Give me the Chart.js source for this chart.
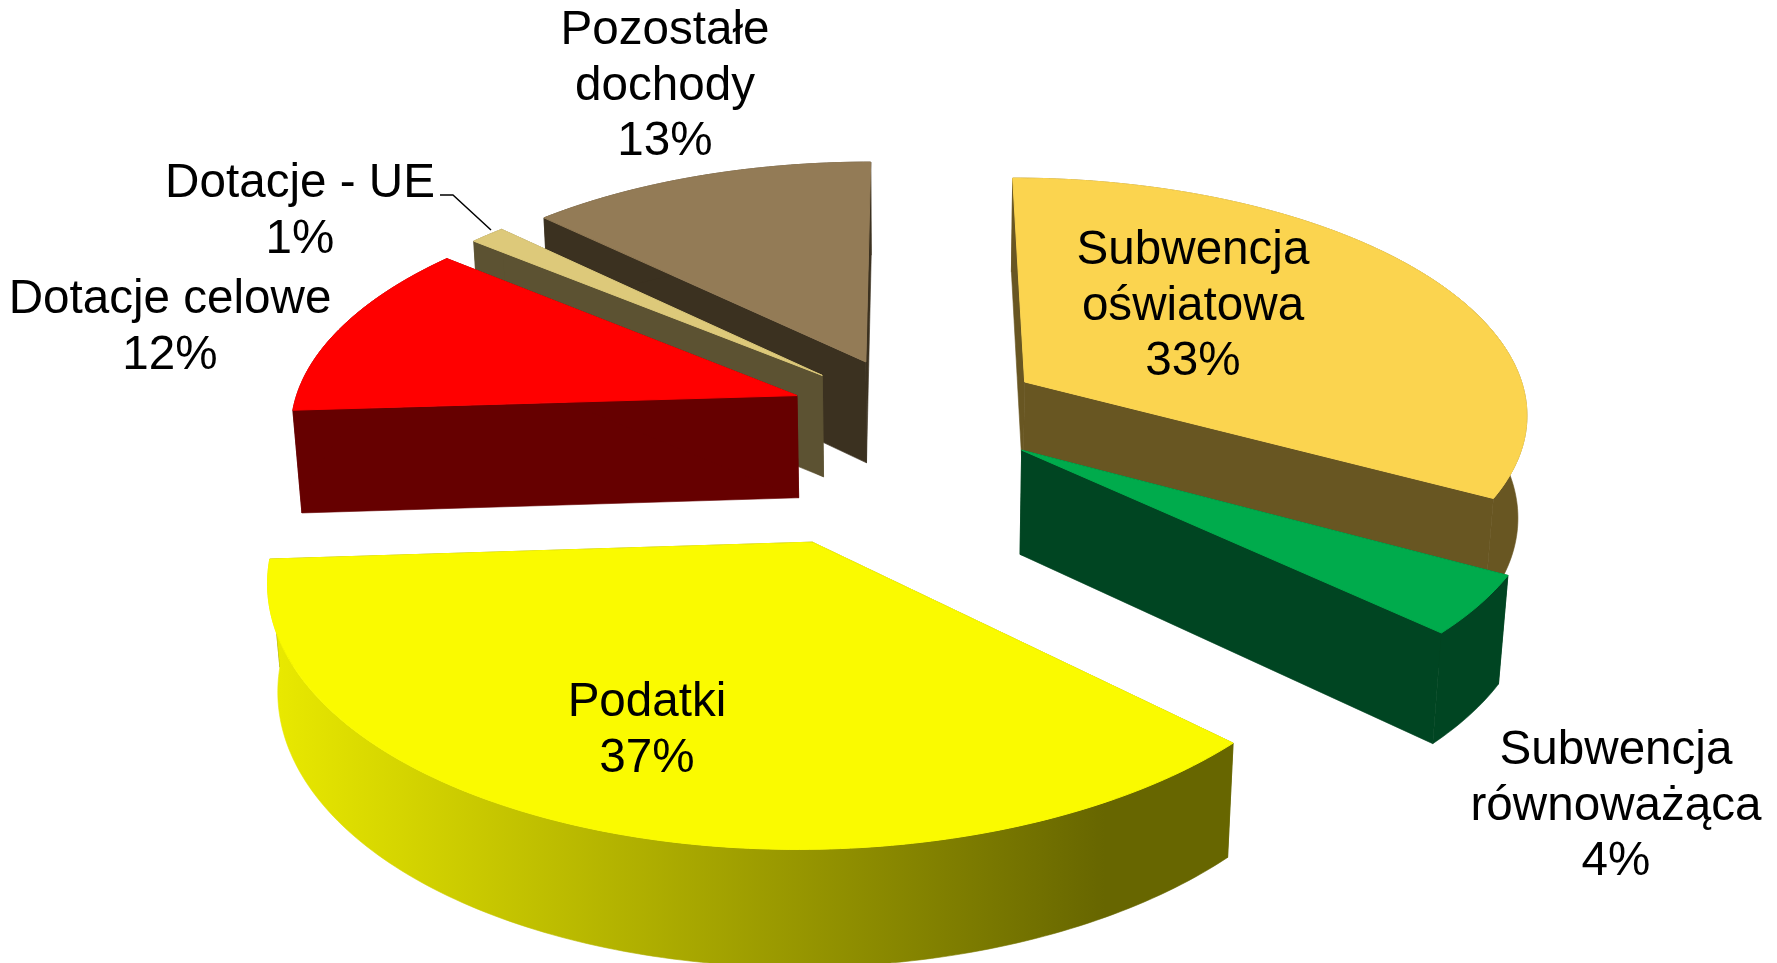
<!DOCTYPE html>
<html><head><meta charset="utf-8">
<style>html,body{margin:0;padding:0;background:#fff}#w{width:1777px;height:963px}</style>
<script src="https://cdn.jsdelivr.net/npm/chart.js@4"></script></head>
<body><div id="w"><canvas id="c" width="1777" height="963"></canvas></div>
<script>
const categories=['Subwencja oświatowa','Subwencja równoważąca','Podatki','Dotacje celowe','Dotacje - UE','Pozostałe dochody'];
const values=[33,4,37,12,1.3,12.7];
const topColors=['#FBD44F','#00AB4C','#FAFA00','#FF0000','#DDC97A','#937B56'];
const sideColors=['#685622','#004522','#676600','#660000','#5C5232','#3B3120'];
const sideLight=[null,null,'#E8E800',null,null,null];
const offsets=[133,133,276,122,123,122];
const labelLines=[['Subwencja','oświatowa','33%'],['Subwencja','równoważąca','4%'],['Podatki','37%'],['Dotacje celowe','12%'],['Dotacje - UE','1%'],['Pozostałe','dochody','13%']];
const labelAnchors=[[1193,251],[1616,751],[647,703],[170,300],[300,184],[665,31]];
const view={cx:912,cy:413,R:505,phi:27.8*Math.PI/180,D:3700,h:118};
const paintOrder=[5,4,3,0,1,2];

function project(X,Y,h){
  const c=Math.cos(view.phi),s=Math.sin(view.phi);
  const k=view.D/(view.D-Y*c+h*s);
  return [view.cx+X*k, view.cy+(Y*s+h*c)*k];
}
function poly(ctx,pts,fill,lw){
  ctx.beginPath();pts.forEach((p,i)=>i?ctx.lineTo(p[0],p[1]):ctx.moveTo(p[0],p[1]));ctx.closePath();
  ctx.fillStyle=fill;ctx.strokeStyle=fill;ctx.lineWidth=lw||.6;ctx.lineJoin='round';ctx.fill();ctx.stroke();
}
const pie3d={id:'pie3d',
  beforeDatasetDraw(chart,args){
    const ctx=chart.ctx,meta=chart.getDatasetMeta(0),cw=chart.width/2,ch=chart.height/2;
    ctx.save();
    paintOrder.forEach(i=>{
      const a=meta.data[i],mid=(a.startAngle+a.endAngle)/2,off=a.options.offset;
      const ox=a.x-cw+Math.cos(mid)*off, oy=a.y-ch+Math.sin(mid)*off;
      const n=Math.max(6,Math.ceil((a.endAngle-a.startAngle)*60));
      const rim=[];for(let j=0;j<=n;j++){const t=a.startAngle+(a.endAngle-a.startAngle)*j/n;rim.push([ox+Math.cos(t)*a.outerRadius,oy+Math.sin(t)*a.outerRadius]);}
      const P=(p,h)=>project(p[0],p[1],h);
      const apex=[ox,oy];
      poly(ctx,[P(apex,0),P(rim[0],0),P(rim[0],view.h),P(apex,view.h)],sideColors[i]);
      poly(ctx,[P(apex,0),P(rim[n],0),P(rim[n],view.h),P(apex,view.h)],sideColors[i]);
      let wall=sideColors[i];
      if(sideLight[i]){
        const x0=P(rim[n],view.h)[0],x1=P(rim[0],view.h)[0];
        const g=ctx.createLinearGradient(x0,0,x1,0);
        g.addColorStop(0,sideLight[i]);g.addColorStop(0.87,sideColors[i]);g.addColorStop(1,sideColors[i]);
        wall=g;
      }
      poly(ctx,[...rim.map(p=>P(p,0)),...rim.slice().reverse().map(p=>P(p,view.h))],wall);
      poly(ctx,[P(apex,0),...rim.map(p=>P(p,0))],topColors[i],1);
    });
    ctx.fillStyle='#000';ctx.font='47.6px "Liberation Sans", Arial, sans-serif';ctx.textAlign='center';ctx.textBaseline='middle';
    labelLines.forEach((ls,i)=>ls.forEach((t,j)=>ctx.fillText(t,labelAnchors[i][0],labelAnchors[i][1]+j*55.5)));
    ctx.strokeStyle='#000';ctx.lineWidth=1.5;ctx.beginPath();ctx.moveTo(440,195);ctx.lineTo(453,195);ctx.lineTo(491,230);ctx.stroke();
    ctx.restore();
    return false;
  }};
new Chart(document.getElementById('c'),{type:'pie',
  data:{labels:categories,datasets:[{data:values,offset:offsets,backgroundColor:topColors,borderWidth:0}]},
  options:{responsive:false,animation:false,radius:view.R,plugins:{legend:{display:false},tooltip:{enabled:false}},layout:{padding:0}},
  plugins:[pie3d]});
</script></body></html>
